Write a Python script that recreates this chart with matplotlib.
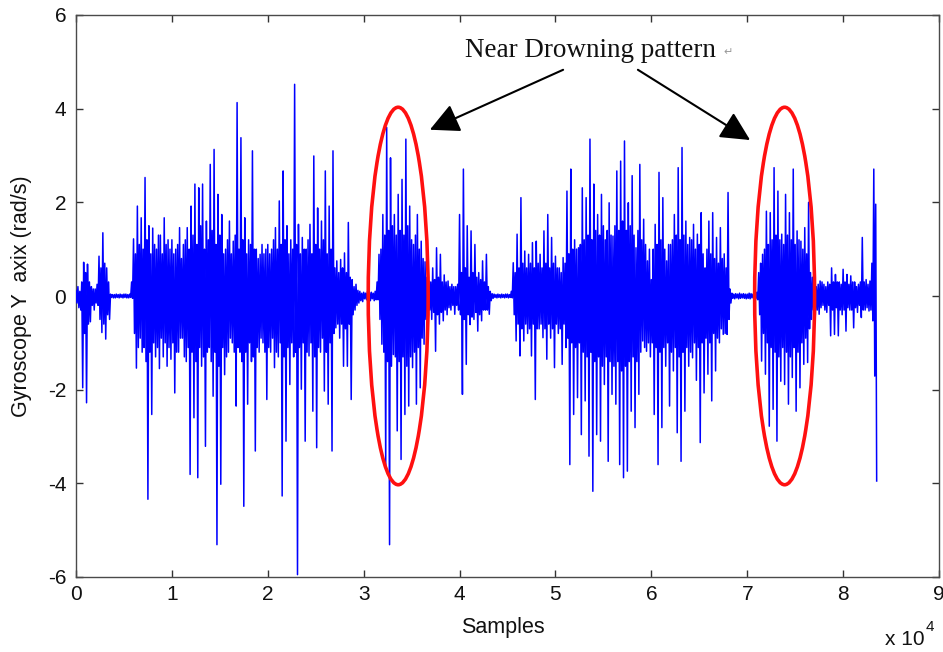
import numpy as np
import matplotlib
matplotlib.use("Agg")
import matplotlib.pyplot as plt
from matplotlib.patches import Ellipse

# Gyroscope Y-axis trace read as positive / negative excursions.
# Each block covers 10 000 samples; upper[n] sits at block + 200*n,
# lower[n] at block + 200*n + 100.
BIN = 200

upper_00k = [
    0.12, 0.2, 0.1, 0.3, 0.72, 0.5, 0.68, 0.3, 0.2, 0.15,
    0.15, 0.25, 0.85, 0.6, 1.35, 0.7, 0.6, 0.3, 0.04, 0.03,
    0.03, 0.04, 0.03, 0.04, 0.03, 0.04, 0.04, 0.03, 0.04, 0.3,
    1.22, 0.9, 1.92, 1.1, 1.67, 1.0, 2.53, 1.2, 1.5, 0.9,
    1.45, 1.1, 1.0, 1.3, 1.3, 0.9, 1.67, 1.1, 1.2, 1.0,
]
lower_00k = [
    -0.15, -0.25, -0.3, -1.96, -0.8, -2.28, -0.6, -0.55, -0.2, -0.3,
    -0.15, -0.2, -0.5, -0.78, -0.6, -0.92, -0.4, -0.5, -0.03, -0.04,
    -0.04, -0.03, -0.04, -0.03, -0.04, -0.03, -0.04, -0.04, -0.03, -0.05,
    -0.8, -1.54, -1.1, -0.9, -1.2, -1.1, -1.4, -4.34, -1.2, -2.53,
    -1.0, -1.3, -1.1, -1.55, -0.9, -1.3, -1.0, -1.5, -1.1, -1.35,
]
upper_10k = [
    1.2, 0.9, 1.0, 1.1, 1.46, 0.8, 1.1, 1.2, 1.46, 1.0,
    1.92, 1.3, 2.39, 1.1, 2.31, 1.5, 2.39, 1.0, 1.60, 1.2,
    2.81, 1.4, 3.13, 1.1, 2.17, 1.3, 1.74, 0.9, 1.0, 1.2,
    1.60, 0.9, 1.17, 1.3, 4.13, 1.0, 3.38, 1.2, 1.67, 0.9,
    1.2, 1.1, 3.10, 1.0, 1.0, 0.8, 0.89, 1.1, 0.9, 1.0,
]
lower_10k = [
    -1.0, -2.07, -1.2, -1.2, -0.9, -0.9, -1.3, -1.4, -1.1, -3.81,
    -1.2, -2.60, -1.4, -3.88, -1.1, -1.5, -1.3, -3.21, -1.2, -1.1,
    -1.4, -2.14, -1.2, -5.31, -1.5, -4.02, -1.1, -1.68, -1.3, -1.2,
    -0.9, -1.0, -1.2, -2.35, -1.1, -1.2, -1.4, -4.49, -1.2, -2.31,
    -1.0, -1.4, -1.3, -3.31, -1.1, -1.2, -0.9, -1.0, -1.2, -2.21,
]
upper_20k = [
    1.10, 0.9, 1.0, 1.2, 1.46, 1.0, 2.03, 1.1, 2.67, 1.2,
    1.5, 0.9, 1.2, 1.0, 4.52, 1.1, 1.53, 0.9, 1.25, 1.0,
    1.0, 1.2, 1.53, 0.9, 2.99, 1.1, 1.88, 1.0, 1.60, 1.2,
    2.67, 0.9, 1.92, 1.0, 3.10, 0.6, 0.75, 0.5, 0.78, 0.6,
    0.92, 0.5, 1.57, 0.4, 0.35, 0.2, 0.25, 0.12, 0.1, 0.06,
]
lower_20k = [
    -1.1, -1.2, -0.9, -1.53, -1.2, -1.3, -1.0, -4.27, -1.3, -3.10,
    -1.1, -1.89, -1.0, -1.3, -1.2, -5.95, -1.1, -1.99, -1.0, -3.10,
    -1.2, -1.28, -1.0, -2.46, -1.3, -3.24, -1.1, -1.2, -0.9, -2.03,
    -1.2, -2.31, -1.0, -3.31, -0.8, -0.68, -0.6, -0.9, -0.6, -1.50,
    -0.7, -1.50, -0.6, -2.21, -0.4, -0.3, -0.2, -0.15, -0.1, -0.12,
]
upper_30k = [
    0.08, 0.06, 0.1, 0.08, 0.08, 0.06, 0.1, 0.3, 0.89, 1.0,
    1.74, 1.3, 3.6, 1.4, 2.95, 1.5, 1.74, 1.3, 2.17, 1.4,
    2.49, 1.3, 3.35, 1.5, 1.92, 1.2, 1.10, 1.3, 1.74, 1.0,
    1.17, 0.8, 0.73, 0.4, 0.32, 0.3, 0.6, 0.35, 1.03, 0.4,
    0.89, 0.3, 0.45, 0.3, 0.32, 0.2, 0.25, 0.2, 0.2, 0.25,
]
lower_30k = [
    -0.06, -0.08, -0.08, -0.1, -0.06, -0.1, -0.08, -0.08, -0.5, -1.03,
    -1.2, -3.67, -1.4, -5.31, -1.5, -1.25, -1.3, -2.88, -1.4, -3.49,
    -1.3, -2.53, -1.5, -2.35, -1.3, -1.53, -1.2, -2.31, -1.1, -1.96,
    -0.9, -1.03, -0.5, -0.39, -0.3, -0.5, -0.35, -1.18, -0.4, -0.6,
    -0.35, -0.53, -0.3, -0.4, -0.25, -0.3, -0.2, -0.39, -0.2, -0.3,
]
upper_40k = [
    1.74, 0.5, 2.71, 0.6, 1.50, 0.4, 1.39, 0.5, 1.10, 0.4,
    0.5, 0.35, 0.75, 0.3, 0.89, 0.2, 0.1, 0.05, 0.04, 0.03,
    0.04, 0.03, 0.04, 0.03, 0.04, 0.04, 0.03, 0.1, 0.71, 0.5,
    1.32, 0.6, 2.10, 0.7, 0.96, 0.6, 0.89, 0.7, 1.14, 0.6,
    1.17, 0.7, 0.89, 0.6, 1.39, 0.7, 1.74, 0.6, 1.25, 0.7,
]
lower_40k = [
    -0.4, -2.10, -0.5, -1.46, -0.4, -0.61, -0.45, -0.5, -0.35, -0.75,
    -0.4, -0.53, -0.3, -0.3, -0.3, -0.39, -0.1, -0.05, -0.03, -0.04,
    -0.03, -0.04, -0.03, -0.04, -0.03, -0.04, -0.03, -0.04, -0.4, -0.96,
    -0.6, -1.28, -0.7, -0.96, -0.6, -0.8, -0.7, -1.28, -0.6, -2.21,
    -0.7, -0.7, -0.6, -0.89, -0.7, -1.35, -0.6, -0.9, -0.7, -1.53,
]
upper_50k = [
    0.85, 0.6, 0.6, 0.5, 0.82, 0.7, 2.24, 0.9, 2.71, 1.0,
    1.2, 1.0, 1.03, 1.1, 2.31, 1.2, 2.10, 1.3, 3.35, 1.2,
    2.39, 1.4, 1.74, 1.3, 2.17, 1.5, 1.2, 1.4, 1.99, 1.3,
    1.28, 1.5, 2.67, 1.4, 2.88, 1.6, 3.31, 1.4, 1.99, 1.5,
    2.57, 1.3, 1.03, 1.4, 2.81, 1.2, 1.64, 1.1, 0.75, 1.0,
]
lower_50k = [
    -0.6, -0.8, -0.7, -1.46, -0.6, -1.1, -0.9, -3.60, -1.0, -2.53,
    -1.1, -2.17, -1.0, -2.96, -1.2, -2.24, -1.3, -3.42, -1.2, -4.17,
    -1.4, -2.96, -1.3, -3.10, -1.5, -1.89, -1.3, -3.53, -1.4, -2.10,
    -1.5, -2.31, -1.4, -3.60, -1.6, -3.88, -1.5, -3.74, -1.4, -2.46,
    -1.3, -2.81, -1.4, -2.10, -1.2, -0.96, -1.1, -1.18, -1.0, -1.3,
]
upper_60k = [
    0.35, 1.0, 1.53, 1.1, 2.64, 1.2, 2.10, 1.0, 0.75, 1.1,
    1.10, 1.2, 1.74, 1.3, 2.74, 1.2, 3.17, 1.3, 1.60, 1.1,
    1.25, 1.2, 1.53, 1.0, 1.32, 1.1, 1.78, 0.9, 0.60, 1.0,
    1.60, 0.9, 1.78, 0.8, 1.25, 0.7, 1.46, 0.8, 0.9, 0.6,
    2.21, 0.15, 0.06, 0.04, 0.05, 0.04, 0.06, 0.04, 0.05, 0.04,
]
lower_60k = [
    -1.0, -2.53, -1.1, -3.60, -1.2, -2.81, -1.1, -1.5, -1.0, -2.35,
    -1.2, -1.6, -1.1, -2.92, -1.3, -3.53, -1.2, -2.46, -1.1, -1.5,
    -1.2, -1.32, -1.0, -1.8, -1.1, -3.13, -1.0, -2.07, -0.9, -1.67,
    -1.0, -2.24, -0.8, -1.60, -0.9, -1.0, -0.7, -0.82, -0.8, -0.82,
    -0.5, -0.15, -0.05, -0.06, -0.04, -0.06, -0.05, -0.04, -0.05, -0.06,
]
upper_70k = [
    0.04, 0.06, 0.05, 0.04, 0.06, 0.08, 0.5, 0.7, 0.89, 1.0,
    1.81, 1.1, 1.78, 1.2, 2.74, 1.3, 2.24, 1.2, 1.32, 1.1,
    2.17, 1.3, 1.78, 1.2, 2.71, 1.1, 1.39, 1.2, 1.17, 1.0,
    1.46, 0.9, 2.0, 0.5, 0.4, 0.3, 0.2, 0.25, 0.32, 0.3,
    0.25, 0.2, 0.3, 0.25, 0.60, 0.3, 0.46, 0.3, 0.3, 0.25,
]
lower_70k = [
    -0.05, -0.06, -0.04, -0.05, -0.06, -0.08, -0.4, -1.39, -0.8, -1.67,
    -1.0, -2.78, -1.1, -2.42, -1.2, -3.10, -1.3, -1.82, -1.1, -1.89,
    -1.2, -2.31, -1.3, -1.74, -1.1, -2.46, -1.2, -1.96, -1.0, -1.46,
    -0.9, -1.42, -0.7, -0.5, -0.3, -0.4, -0.3, -0.39, -0.25, -0.2,
    -0.3, -0.35, -0.2, -0.85, -0.3, -0.82, -0.25, -0.85, -0.3, -0.4,
]
upper_80k = [
    0.57, 0.3, 0.46, 0.25, 0.43, 0.3, 0.3, 0.2, 0.25, 0.3,
    1.25, 0.3, 0.35, 0.25, 0.32, 0.7, 2.71, 1.96,
]
lower_80k = [
    -0.3, -0.75, -0.25, -0.3, -0.3, -0.68, -0.25, -0.35, -0.2, -0.46,
    -0.3, -0.3, -0.25, -0.32, -0.3, -0.53, -1.71, -3.95,
]

x_tick_values = [0, 1, 2, 3, 4, 5, 6, 7, 8, 9]          # in units of 10^4 samples
y_tick_values = [-6, -4, -2, 0, 2, 4, 6]

pattern_label = "Near Drowning pattern"
x_label = "Samples"
y_label = "Gyroscope Y  axix (rad/s)"

blocks = [
    (0, upper_00k, lower_00k), (10000, upper_10k, lower_10k),
    (20000, upper_20k, lower_20k), (30000, upper_30k, lower_30k),
    (40000, upper_40k, lower_40k), (50000, upper_50k, lower_50k),
    (60000, upper_60k, lower_60k), (70000, upper_70k, lower_70k),
    (80000, upper_80k, lower_80k),
]
xs, ys = [], []
for start, up, lo in blocks:
    n = np.arange(len(up))
    xs.append(np.column_stack([start + BIN * n, start + BIN * n + BIN // 2]).ravel())
    ys.append(np.column_stack([up, lo]).ravel())
samples = np.concatenate(xs)
gyro_y = np.concatenate(ys)

plt.rcParams["font.family"] = ["Liberation Sans", "DejaVu Sans"]

W, H = 943, 652
fig = plt.figure(figsize=(W / 100, H / 100), dpi=100)
fig.patch.set_facecolor("white")
ax = fig.add_axes([76 / W, 1 - 577 / H, (939 - 76) / W, (577 - 15) / H])

ax.plot(samples, gyro_y, color="#0000ff", lw=1.1, zorder=3)

ax.set_xlim(0, 90000)
ax.set_ylim(-6, 6)
ax.set_xticks([v * 10000 for v in x_tick_values])
ax.set_xticklabels([str(v) for v in x_tick_values])
ax.set_yticks(y_tick_values)
ax.set_yticklabels([str(v) for v in y_tick_values])

for s in ax.spines.values():
    s.set_color("#4a4a4a")
    s.set_linewidth(1.0)
ax.tick_params(direction="in", top=True, right=True, length=5, width=1.0,
               color="#333333", labelsize=15, labelcolor="#111111")
ax.tick_params(axis="x", pad=6)
ax.tick_params(axis="y", pad=7)

# Highlighted windows
for cx in (33600, 73900):
    ax.add_patch(Ellipse((cx, 0.0), width=6250, height=8.06, fill=False,
                         edgecolor="#ff1010", lw=2.6, zorder=4))

# Arrows pointing at the highlighted windows
arrow_kw = dict(arrowstyle="-|>,head_length=0.6,head_width=0.3",
                mutation_scale=30, lw=1.5, color="black",
                shrinkA=0, shrinkB=0)
ax.annotate("", xy=(36900, 3.55), xytext=(50800, 4.83), arrowprops=arrow_kw,
            annotation_clip=False)
ax.annotate("", xy=(70300, 3.33), xytext=(58600, 4.83), arrowprops=arrow_kw,
            annotation_clip=False)

fig.text(465 / W, 1 - 57 / H, pattern_label, family=["Liberation Serif", "DejaVu Serif"],
         fontsize=19.5, ha="left", va="baseline", color="#111111")
fig.text(723 / W, 1 - 55 / H, "\u21b5", fontsize=8, color="#999999",
         ha="left", va="baseline", family=["DejaVu Sans"])

fig.text(503 / W, 1 - 633 / H, x_label, fontsize=15.5, ha="center",
         va="baseline", color="#111111")
fig.text(22 / W, 1 - 296 / H, y_label, fontsize=15.5, rotation=90,
         ha="center", va="center", color="#111111")

fig.text(885 / W, 1 - 645 / H, "x 10", fontsize=15, ha="left",
         va="baseline", color="#111111")
fig.text(926 / W, 1 - 631 / H, "4", fontsize=11, ha="left",
         va="baseline", color="#111111")

fig.savefig("out.png", dpi=100, facecolor="white")
